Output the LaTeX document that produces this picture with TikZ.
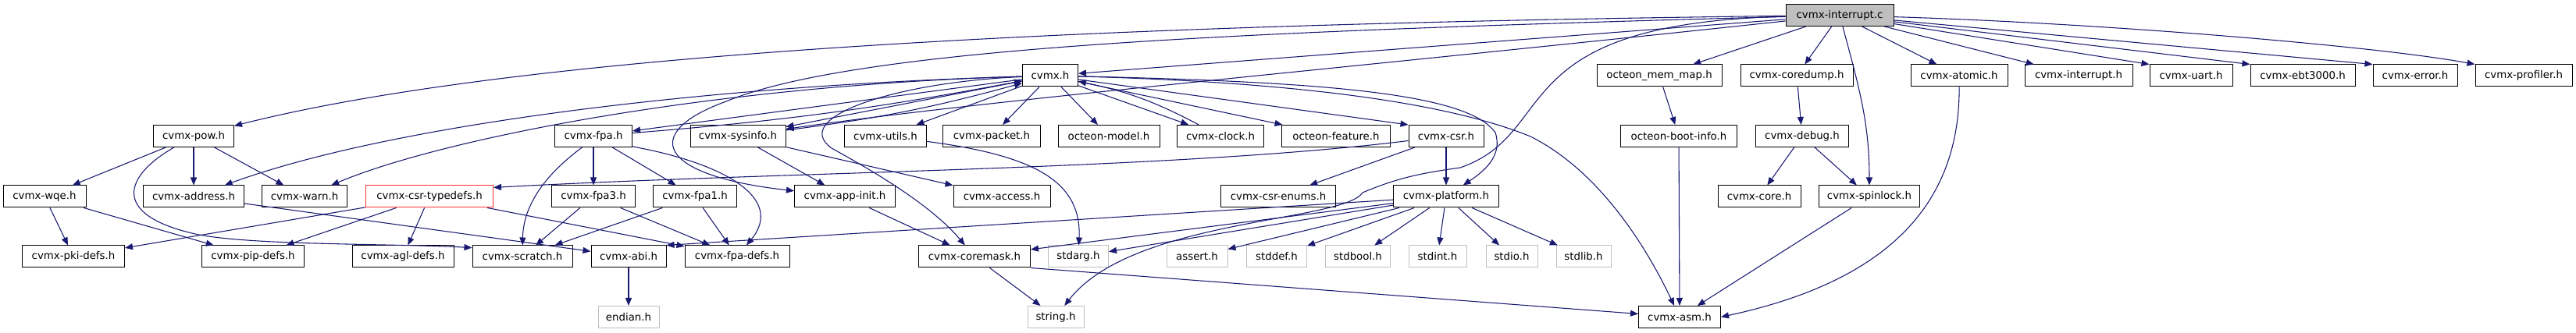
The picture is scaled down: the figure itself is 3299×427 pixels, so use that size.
\documentclass[tikz,border=0pt]{standalone}
\usepackage{fontspec}
\setmainfont{DejaVu Sans}
\usetikzlibrary{arrows.meta}

\definecolor{edgeblue}{HTML}{191970}
\definecolor{sysgray}{HTML}{BFBFBF}
\definecolor{badred}{HTML}{FF3030}

\tikzset{
  file/.style={draw=black, line width=0.75pt, fill=white, inner xsep=1pt, inner ysep=0pt,
    minimum height=21pt, minimum width=#1*0.75pt, font=\fontsize{10}{12}\selectfont},
  sysfile/.style={file=#1, draw=sysgray},
  redfile/.style={file=#1, draw=badred},
  mainfile/.style={file=#1, fill=sysgray},
  inc/.style={draw=edgeblue, line width=0.8pt, -{Triangle[length=7.5pt,width=6pt]}}
}

\begin{document}
\begin{tikzpicture}[x=0.75pt,y=-0.75pt]
\useasboundingbox (0,0) rectangle (3299,427);

\node[mainfile=138] (ic) at (2356,19.5) {cvmx-interrupt.c};

\node[file=71] (cvmx) at (1345,97) {cvmx.h};
\node[file=160] (memmap) at (2125,97) {octeon\_mem\_map.h};
\node[file=144] (coredump) at (2301,97) {cvmx-coredump.h};
\node[file=124] (atomic) at (2509,97) {cvmx-atomic.h};
\node[file=138] (inth) at (2662,97) {cvmx-interrupt.h};
\node[file=106] (uart) at (2806,97) {cvmx-uart.h};
\node[file=134] (ebt) at (2949,97) {cvmx-ebt3000.h};
\node[file=108] (error) at (3093,97) {cvmx-error.h};
\node[file=124] (profiler) at (3232,97) {cvmx-profiler.h};

\node[file=103] (pow) at (248,174.5) {cvmx-pow.h};
\node[file=99] (fpa) at (760,174.5) {cvmx-fpa.h};
\node[file=122] (sysinfo) at (945,174.5) {cvmx-sysinfo.h};
\node[file=105] (utils) at (1134,174.5) {cvmx-utils.h};
\node[file=125] (packet) at (1270,174.5) {cvmx-packet.h};
\node[file=130] (model) at (1420,174.5) {octeon-model.h};
\node[file=111] (clock) at (1563,174.5) {cvmx-clock.h};
\node[file=139] (feature) at (1711,174.5) {octeon-feature.h};
\node[file=96] (csr) at (1852,174.5) {cvmx-csr.h};
\node[file=149] (bootinfo) at (2150,174.5) {octeon-boot-info.h};
\node[file=119] (debug) at (2308,174.5) {cvmx-debug.h};

\node[file=106] (wqe) at (57,252) {cvmx-wqe.h};
\node[file=129] (address) at (248,252) {cvmx-address.h};
\node[file=109] (warn) at (390,252) {cvmx-warn.h};
\node[redfile=163] (csrtd) at (550,252) {cvmx-csr-typedefs.h};
\node[file=107] (fpa3) at (760,252) {cvmx-fpa3.h};
\node[file=107] (fpa1) at (890,252) {cvmx-fpa1.h};
\node[file=129] (appinit) at (1082,252) {cvmx-app-init.h};
\node[file=124] (access) at (1283,252) {cvmx-access.h};
\node[file=147] (enums) at (1637,252) {cvmx-csr-enums.h};
\node[file=135] (platform) at (1852,252) {cvmx-platform.h};
\node[file=106] (core) at (2253,252) {cvmx-core.h};
\node[file=129] (spinlock) at (2394,252) {cvmx-spinlock.h};

\node[file=131] (pki) at (94,329) {cvmx-pki-defs.h};
\node[file=131] (pip) at (324,329) {cvmx-pip-defs.h};
\node[file=130] (agl) at (516,329) {cvmx-agl-defs.h};
\node[file=128] (scratch) at (669,329) {cvmx-scratch.h};
\node[file=96] (abi) at (805,329) {cvmx-abi.h};
\node[file=134] (fpadefs) at (944,329) {cvmx-fpa-defs.h};
\node[file=143] (coremask) at (1248,329) {cvmx-coremask.h};
\foreach \n/\x/\w in {stdarg/1381/77, assert/1533/78, stddef/1635/77, stdbool/1739/83,
                     stdint/1841/74, stdio/1936/66, stdlib/2028/70}
  \node[sysfile=\w] (\n) at (\x,329) {\n.h};

\node[sysfile=78] (endian) at (805,406.5) {endian.h};
\node[sysfile=72] (string) at (1352,406.5) {string.h};
\node[file=105] (asm) at (2151,406.5) {cvmx-asm.h};

% cvmx-interrupt.c
\foreach \f in {cvmx,memmap,coredump,atomic,inth}
  \draw[inc] (ic) -- (\f);
\foreach \f in {uart,ebt,error}
  \draw[inc] (ic) -- (\f.north west);
\draw[inc] (ic) .. controls (2700,30) and (3050,60) .. (profiler.north west);
\draw[inc] (ic) .. controls (1500,30) and (700,60) .. (pow);
\draw[inc] (ic) .. controls (1700,90) and (1250,130) .. (sysinfo);
\draw[inc] (ic) .. controls (1600,40) and (1100,60) .. (930,130)
  .. controls (820,170) and (840,225) .. (appinit);
\draw[inc] (ic) .. controls (1920,30) and (2000,170) .. (1870,215)
  .. controls (1820,222) and (1790,228) .. (1745,247)
  .. controls (1720,285) and (1450,280) .. (string);
\draw[inc] (ic) to[out=-75,in=90] (spinlock);

% cvmx.h
\foreach \f in {utils,packet,model,clock,feature,fpa,sysinfo}
  \draw[inc] (cvmx) -- (\f);
\draw[inc] (cvmx) -- (csr.north west);
\draw[inc] (fpa) to[bend right=3] (cvmx);
\draw[inc] (sysinfo) to[bend right=4] (cvmx);
\draw[inc] (clock) to[bend right=8] (cvmx);
\draw[inc] (cvmx) .. controls (900,110) and (500,160) .. (address);
\draw[inc] (cvmx) .. controls (900,110) and (560,180) .. (warn);
\draw[inc] (cvmx) .. controls (1150,105) and (1010,150) .. (1065,190)
  .. controls (1110,215) and (1190,260) .. (coremask);
\draw[inc] (cvmx) .. controls (1700,105) and (1880,120) .. (1915,170)
  .. controls (1925,200) and (1900,220) .. (platform);
\draw[inc] (cvmx) .. controls (1650,105) and (1850,130) .. (1960,175)
  .. controls (2050,220) and (2110,320) .. (asm);

% cvmx-pow.h and the csr typedefs
\foreach \f in {wqe,address,warn}
  \draw[inc] (pow) -- (\f);
\draw[inc] (pow.210) .. controls (160,225) and (140,275) .. (250,300)
  .. controls (320,315) and (500,312) .. (scratch.170);
\foreach \f in {pki,pip}
  \draw[inc] (wqe) -- (\f);
\draw[inc] (address) -- (abi);
\foreach \f in {pki,pip,agl,fpadefs}
  \draw[inc] (csrtd) -- (\f);

% cvmx-fpa.h
\foreach \f in {fpa3,fpa1}
  \draw[inc] (fpa) -- (\f);
\draw[inc] (fpa.225) .. controls (690,230) and (670,270) .. (scratch);
\draw[inc] (fpa.345) .. controls (930,210) and (1005,255) .. (fpadefs);
\foreach \s in {fpa3,fpa1} {
  \draw[inc] (\s) -- (scratch);
  \draw[inc] (\s) -- (fpadefs);
}
\draw[inc] (abi) -- (endian);

% middle
\foreach \f in {appinit,access}
  \draw[inc] (sysinfo) -- (\f);
\draw[inc] (utils) .. controls (1330,200) and (1385,235) .. (stdarg);
\draw[inc] (appinit) -- (coremask);
\foreach \f in {enums,platform}
  \draw[inc] (csr) -- (\f);
\draw[inc] (csr) .. controls (1500,218) and (1000,220) .. (csrtd.8);
\foreach \f in {coremask,stdarg,assert,stddef,stdbool,stdint,stdio,stdlib}
  \draw[inc] (platform) -- (\f);
\draw[inc] (platform) -- (abi.north east);
\draw[inc] (coremask) -- (string);
\draw[inc] (coremask.south east) -- (asm);

% right side
\draw[inc] (memmap) -- (bootinfo);
\draw[inc] (bootinfo) -- (asm);
\draw[inc] (coredump) -- (debug);
\foreach \f in {core,spinlock}
  \draw[inc] (debug) -- (\f);
\draw[inc] (spinlock) -- (asm);
\draw[inc] (atomic) .. controls (2510,260) and (2420,360) .. (asm.east);
\end{tikzpicture}
\end{document}
